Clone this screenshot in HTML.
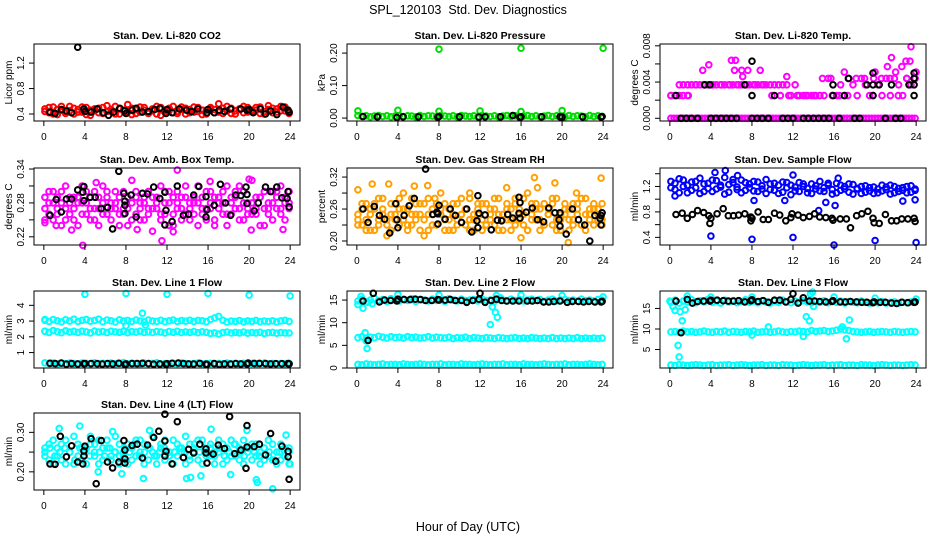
<!DOCTYPE html>
<html><head><meta charset="utf-8">
<style>
html,body{margin:0;padding:0;background:#fff;}
svg{display:block;font-family:"Liberation Sans",Arial,sans-serif;}
.t{font-weight:bold;font-size:10.5px;}
.tk{font-size:10px;}
</style></head>
<body>
<svg id="chart" width="936" height="540" viewBox="0 0 936 540" xmlns="http://www.w3.org/2000/svg">
<text x="468" y="14" text-anchor="middle" font-size="12.5">SPL_120103&#160; Std. Dev. Diagnostics</text>
<text x="468" y="531" text-anchor="middle" font-size="12.5">Hour of Day (UTC)</text>
</svg>
<script>
const xTicks=[0,4,8,12,16,20,24];
const co2Red=[0.48,0.42,0.51,0.39,0.46,0.44,0.52,0.40,0.47,0.43,0.50,0.38,0.45,0.49,0.41,0.53,0.44,0.40,0.48,0.46,0.55,0.39,0.47,0.43,0.50,0.41,0.45,0.52,0.38,0.46,0.49,0.42,0.44,0.51,0.40,0.47,0.43,0.50,0.39,0.46,0.48,0.42,0.56,0.41,0.45,0.49,0.40,0.47,0.52,0.43,0.46,0.50,0.41,0.44,0.53,0.42,0.48,0.45,0.51,0.43];
const co2Red2=[0.44,0.50,0.40,0.47,0.52,0.41,0.45,0.49,0.43,0.51,0.39,0.46,0.48,0.42,0.50,0.44,0.47,0.52,0.40,0.45,0.43,0.49,0.41,0.51,0.46,0.44,0.48,0.40,0.50,0.43,0.45,0.52,0.41,0.47,0.49,0.42,0.51,0.44,0.46,0.40,0.50,0.47,0.43,0.49,0.52,0.41,0.45,0.48,0.42,0.50,0.44,0.46,0.51,0.40,0.47,0.49,0.43,0.52,0.45,0.41];
const co2Black=[[0.6,.43],[1.1,.41],[1.7,.47],[2.2,.45],[2.7,.42],[3.3,1.45],[3.9,.48],[4.0,.44],[4.6,.43],[5.2,.48],[5.8,.42],[6.3,.38],[6.8,.43],[7.4,.49],[7.9,.45],[8.0,.41],[8.6,.46],[9.0,.49],[9.6,.43],[10.2,.44],[10.8,.47],[11.3,.49],[11.9,.41],[12.0,.47],[12.5,.42],[13.2,.48],[13.9,.46],[14.4,.44],[15.0,.48],[15.9,.42],[16.0,.47],[16.6,.42],[17.1,.46],[17.6,.44],[18.2,.48],[19.2,.48],[19.8,.46],[20.0,.47],[20.4,.42],[21.1,.48],[21.6,.40],[22.1,.45],[22.7,.39],[23.3,.51],[23.8,.46],[23.9,.43]];
const presGreen=[0.008,0.005,0.007,0.004,0.006,0.008,0.005,0.007,0.004,0.006,0.008,0.005,0.007,0.006,0.004,0.008,0.005,0.007,0.006,0.004,0.008,0.006,0.005,0.007,0.004,0.008,0.006,0.005,0.007,0.004,0.008,0.006,0.005,0.007,0.004,0.006,0.008,0.005,0.007,0.004,0.006,0.008,0.005,0.007,0.004,0.006,0.008,0.005,0.007,0.006,0.004,0.008,0.005,0.007,0.006,0.004,0.008,0.005,0.007,0.005];
const presSpikes=[[0.1,0.022],[4.0,0.024],[8.0,0.021],[12.0,0.022],[16.0,0.02],[20.0,0.023],[8.0,0.212],[16.0,0.215],[24.0,0.215]];
const presBlack=[[0.6,0.005],[2,0.004],[3.9,0.002],[4.5,0.004],[6,0.004],[7.9,0.003],[8.0,0.005],[10,0.004],[11.9,0.003],[12.5,0.004],[14,0.004],[15.2,0.008],[15.9,0.002],[16,0.004],[18,0.004],[19.8,0.004],[20,0.003],[22,0.004],[23.8,0.003],[23.9,0.005]];
const tempZero=[0,0,0,0,0,0,0,0,0,0,0,0,0,0,0,0,0,0,0,0,0,0,0,0,0,0,0,0,0,0,0,0,0,0,0,0,0,0,0,0,0,0,0,0,0,0,0,0,0,0,0,0,0,0,0,0,0,0,0,0,0,0,0,0,0,0,0,0,0,0,0,0,0,0,0,0,0,0,0,0];
const tempUpper=[0.0025,0.0025,0.0025,0.0037,0.0025,0.0037,0.0037,0.0037,0.0037,0.0037,0.0037,0.0037,0.0037,0.0037,0.0037,0.0037,0.0037,0.0037,0.0037,0.0037,0.0037,0.0037,0.0037,0.0037,0.0037,0.0037,0.0037,0.0037,0.0037,0.0025,0.0037,0.0025,0.0025,0.0025,0.0025,0.0025,0.0025,0.0025,0.0044,0.0025,0.0025,0.0037,0.0025,0.0044,0.0037,0.0025,0.0044,0.0037,0.0025,0.0044,0.0037,0.0025,0.0044,0.0025,0.0044,0.0037,0.0025,0.0044,0.0037,0.0044];
const tempUpper2=[0.0025,0.0037,0.0037,0.0037,0.0037,0.0037,0.0037,0.0037,0.0037,0.0037,0.0037,0.0037,0.0025,0.0025,0.0025,0.0025,0.0025,0.0025,0.0044,0.0044,0.0025,0.0025,0.0044,0.0044,0.0025,0.0044,0.0044,0.0025,0.0044,0.0044];
const tempMagOut=[[3.2,0.0053],[3.8,0.0059],[6,0.0064],[6.4,0.0064],[6.3,0.0053],[7,0.0053],[7.1,0.0046],[7.6,0.0053],[8.8,0.0053],[11.4,0.0046],[17,0.0051],[20,0.0051],[21.2,0.0057],[21.6,0.0067],[22,0.0051],[22.6,0.0057],[23,0.0063],[23.4,0.0063],[23.5,0.0079],[24,0.0051],[1.3,0.0025],[1.8,0.0025]];
const tempBlack=[[1.1,0],[1.6,0],[2.1,0],[2.7,0],[4,0],[4.5,0],[5,0],[5.5,0],[6,0],[6.5,0],[8,0],[8.5,0],[9,0],[9.6,0],[11,0],[11.5,0],[12,0],[13,0],[13.5,0],[14,0],[14.5,0],[15,0],[15.5,0],[16.5,0],[18,0],[18.5,0],[21,0],[22,0],[22.5,0],[0.6,0.0025],[8,0.0025],[10.2,0.0025],[15.9,0.0025],[17,0.0025],[19.8,0.0025],[23.8,0.0025],[3.4,0.0037],[3.9,0.0037],[7.3,0.0037],[15.9,0.0037],[19.2,0.0037],[19.8,0.0037],[20.4,0.0037],[21.6,0.0037],[23.3,0.0037],[23.8,0.0037],[17.4,0.0044],[23.8,0.0044],[19.8,0.005],[23.8,0.005],[8,0.0063]];
const boxMagA=[0.27,0.30,0.25,0.29,0.28,0.31,0.26,0.29,0.24,0.28,0.30,0.27,0.25,0.29,0.31,0.26,0.28,0.30,0.24,0.27,0.29,0.32,0.26,0.28,0.25,0.30,0.27,0.29,0.31,0.26,0.28,0.24,0.30,0.27,0.29,0.25,0.28,0.31,0.26,0.30,0.27,0.24,0.29,0.28,0.31,0.26,0.30,0.25,0.28,0.27,0.32,0.26,0.29,0.24,0.28,0.30,0.27,0.31,0.29,0.28];
const boxMagB=[0.25,0.28,0.30,0.26,0.24,0.27,0.29,0.25,0.28,0.31,0.26,0.29,0.27,0.24,0.28,0.30,0.25,0.27,0.29,0.26,0.24,0.28,0.30,0.25,0.29,0.27,0.23,0.28,0.26,0.30,0.24,0.29,0.27,0.25,0.31,0.28,0.26,0.24,0.29,0.27,0.30,0.25,0.28,0.26,0.24,0.29,0.27,0.31,0.25,0.28,0.26,0.29,0.24,0.30,0.27,0.25,0.29,0.26,0.28,0.30];
const boxMagC=[0.29,0.26,0.28,0.27,0.30,0.25,0.28,0.27,0.29,0.26,0.28,0.25,0.30,0.27,0.26,0.29,0.27,0.28,0.26,0.30,0.27,0.25,0.29,0.27,0.28,0.26,0.29,0.27,0.25,0.28,0.30,0.26,0.28,0.29,0.26,0.27,0.29,0.28,0.27,0.25,0.28,0.29,0.27,0.30,0.26,0.28,0.29,0.27,0.30,0.26,0.28,0.27,0.29,0.27,0.26,0.28,0.30,0.27,0.25,0.27];
const boxMagOut=[[3.8,0.205],[11.5,0.213],[13,0.338],[20,0.322],[16.2,0.318],[5.1,0.316],[0.1,0.245],[2.7,0.232],[12.6,0.229],[20.2,0.232],[23.3,0.233],[1.2,0.24],[9.1,0.233]];
const boxBlack=[[0.6,0.258],[1.2,0.286],[1.7,0.264],[2.2,0.287],[2.7,0.287],[3.3,0.303],[3.8,0.299],[3.9,0.309],[3.9,0.284],[4.5,0.29],[5,0.29],[5.6,0.27],[6.2,0.272],[6.7,0.234],[7.3,0.336],[7.8,0.297],[7.9,0.276],[7.9,0.283],[7.9,0.261],[8.5,0.294],[9,0.255],[9.6,0.297],[10.1,0.296],[10.7,0.308],[11.3,0.288],[11.8,0.299],[11.9,0.267],[11.8,0.241],[12.5,0.247],[13,0.31],[13.6,0.258],[14.1,0.26],[14.6,0.294],[15.1,0.309],[15.8,0.291],[15.9,0.268],[15.8,0.255],[16.6,0.276],[17.2,0.313],[17.7,0.28],[18.2,0.258],[18.7,0.294],[19.2,0.293],[19.8,0.279],[19.8,0.295],[19.7,0.308],[20.5,0.266],[20.9,0.28],[21.6,0.308],[22.1,0.3],[22.7,0.308],[23.2,0.289],[23.7,0.288],[23.8,0.3],[23.9,0.273]];
const rhA=[0.25,0.23,0.27,0.22,0.26,0.24,0.28,0.21,0.25,0.27,0.23,0.26,0.22,0.28,0.24,0.25,0.27,0.22,0.26,0.23,0.29,0.24,0.26,0.22,0.27,0.25,0.23,0.28,0.24,0.26,0.22,0.27,0.25,0.23,0.28,0.24,0.26,0.22,0.27,0.25,0.23,0.29,0.24,0.26,0.22,0.27,0.25,0.23,0.28,0.24,0.26,0.22,0.27,0.25,0.23,0.28,0.24,0.26,0.25,0.27];
const rhB=[0.23,0.27,0.24,0.26,0.22,0.28,0.25,0.23,0.27,0.24,0.26,0.29,0.23,0.25,0.27,0.22,0.24,0.28,0.25,0.23,0.26,0.27,0.22,0.25,0.24,0.28,0.26,0.22,0.25,0.27,0.24,0.23,0.26,0.28,0.22,0.25,0.27,0.24,0.23,0.26,0.28,0.22,0.25,0.27,0.24,0.23,0.26,0.28,0.22,0.25,0.27,0.24,0.23,0.26,0.28,0.22,0.25,0.27,0.24,0.23];
const rhC=[0.24,0.26,0.22,0.25,0.27,0.23,0.26,0.24,0.22,0.25,0.28,0.24,0.26,0.23,0.25,0.27,0.21,0.25,0.23,0.27,0.25,0.22,0.24,0.27,0.23,0.25,0.26,0.24,0.22,0.25,0.27,0.23,0.24,0.26,0.25,0.22,0.24,0.26,0.28,0.24,0.25,0.22,0.27,0.24,0.26,0.23,0.25,0.27,0.24,0.22,0.25,0.26,0.24,0.27,0.23,0.25,0.26,0.23,0.26,0.24];
const rhOut=[[0.1,0.296],[1.5,0.307],[3.1,0.307],[5.6,0.303],[6.9,0.304],[7.6,0.28],[17.3,0.319],[23.8,0.318],[19.3,0.309],[17.6,0.3],[16,0.206],[20.6,0.197],[21.4,0.29],[11,0.29],[3.2,0.215],[14.6,0.3]];
const rhBlack=[[0.6,0.26],[1.1,0.235],[1.7,0.265],[2.2,0.248],[2.7,0.241],[3.2,0.215],[3.8,0.27],[3.9,0.24],[4,0.225],[4.6,0.248],[5.1,0.266],[5.6,0.28],[6.7,0.335],[7.4,0.25],[7.8,0.254],[7.9,0.232],[7.9,0.251],[8.0,0.267],[8.6,0.241],[9.1,0.26],[9.6,0.248],[10.2,0.235],[10.7,0.26],[11.2,0.217],[11.7,0.238],[11.8,0.285],[11.9,0.252],[11.8,0.225],[12.5,0.249],[13.1,0.221],[13.7,0.239],[14.1,0.238],[14.7,0.25],[15.2,0.243],[15.8,0.282],[15.9,0.272],[15.8,0.252],[15.9,0.243],[16.5,0.254],[17.1,0.262],[17.6,0.24],[18.2,0.236],[18.7,0.262],[19.3,0.253],[19.7,0.24],[19.8,0.253],[19.8,0.228],[20.4,0.213],[21.0,0.26],[21.6,0.24],[22.2,0.23],[22.7,0.2],[23.2,0.248],[23.7,0.242],[23.8,0.248],[23.9,0.253],[23.8,0.23]];
const flowBlueA=[1.28,1.15,1.32,1.20,1.10,1.27,1.18,1.33,1.12,1.25,1.30,1.16,1.22,1.34,1.11,1.26,1.19,1.30,1.14,1.24,1.28,1.12,1.21,1.31,1.15,1.25,1.09,1.27,1.18,1.22,1.13,1.26,1.20,1.10,1.24,1.16,1.28,1.12,1.22,1.08,1.25,1.14,1.20,1.11,1.23,1.16,1.09,1.21,1.13,1.19,1.10,1.22,1.15,1.08,1.20,1.12,1.18,1.10,1.21,1.14];
const flowBlueB=[1.18,1.25,1.10,1.30,1.22,1.14,1.28,1.09,1.24,1.17,1.12,1.29,1.19,1.08,1.23,1.31,1.15,1.10,1.26,1.18,1.13,1.27,1.16,1.09,1.24,1.14,1.22,1.11,1.26,1.07,1.19,1.12,1.24,1.17,1.09,1.21,1.13,1.18,1.25,1.15,1.10,1.22,1.16,1.24,1.08,1.17,1.20,1.11,1.18,1.09,1.16,1.13,1.19,1.22,1.10,1.17,1.14,1.20,1.11,1.16];
const flowBlueOut=[[4,0.42],[8,0.37],[12,0.4],[16,0.28],[20,0.35],[24,0.32],[4.4,1.42],[5.4,1.45],[12,1.38],[15.2,0.95],[16.1,0.9],[14.5,0.82],[22.7,0.97],[23.9,0.99],[0.5,1.05],[8.2,0.98],[11.2,0.98],[6.6,1.37],[16.4,1.33]];
const flowBlack=[[0.6,0.76],[1.2,0.78],[1.7,0.7],[2.2,0.76],[2.7,0.82],[3.3,0.79],[3.8,0.74],[3.9,0.62],[4.0,0.7],[4.6,0.77],[5.2,0.85],[5.7,0.74],[6.2,0.74],[6.7,0.75],[7.3,0.77],[7.9,0.72],[7.9,0.66],[8.0,0.7],[8.6,0.8],[9.1,0.68],[9.6,0.68],[10.2,0.78],[10.7,0.75],[11.3,0.66],[11.8,0.71],[11.9,0.77],[12.5,0.75],[13,0.71],[13.6,0.73],[14.1,0.77],[14.6,0.72],[15.2,0.71],[15.8,0.7],[15.9,0.67],[16.6,0.69],[17.2,0.69],[17.6,0.55],[18.2,0.74],[18.7,0.77],[19.3,0.81],[19.8,0.7],[19.9,0.63],[20.4,0.62],[21.0,0.76],[21.6,0.66],[22.1,0.66],[22.6,0.69],[23.2,0.69],[23.8,0.7],[23.9,0.65]];
const l1Upper=[3.05,2.98,3.10,3.02,2.95,3.08,3.00,3.12,2.97,3.05,3.10,2.99,3.04,3.12,2.96,3.06,3.02,2.94,3.08,3.00,3.04,2.97,3.06,3.01,2.95,3.07,3.00,2.98,3.05,2.96,3.02,3.06,2.97,3.03,2.99,3.05,2.98,3.04,3.02,2.96,3.10,3.20,3.30,3.05,2.94,3.00,2.97,3.03,2.95,3.01,2.98,3.04,2.96,3.00,2.97,3.02,2.95,3.01,3.05,2.98];
const l1Mid=[2.35,2.28,2.40,2.32,2.26,2.38,2.30,2.35,2.28,2.36,2.31,2.25,2.37,2.30,2.34,2.27,2.36,2.31,2.29,2.35,2.26,2.33,2.30,2.36,2.28,2.32,2.27,2.34,2.30,2.25,2.33,2.29,2.35,2.27,2.31,2.28,2.34,2.26,2.32,2.29,2.22,2.25,2.18,2.27,2.30,2.24,2.28,2.25,2.30,2.23,2.27,2.25,2.29,2.22,2.26,2.28,2.23,2.27,2.25,2.24];
const l1Low=[0.35,0.30,0.33,0.28,0.32,0.29,0.34,0.30,0.27,0.33,0.31,0.28,0.35,0.30,0.32,0.27,0.34,0.29,0.31,0.36,0.28,0.32,0.30,0.27,0.33,0.29,0.31,0.35,0.28,0.30,0.26,0.32,0.29,0.33,0.30,0.27,0.31,0.34,0.28,0.30,0.32,0.27,0.31,0.29,0.33,0.28,0.30,0.26,0.32,0.29,0.31,0.28,0.30,0.33,0.27,0.31,0.29,0.30,0.28,0.32];
const l1Out=[[4,4.7],[8,4.75],[12,4.7],[16,4.75],[20,4.65],[24,4.6],[9.6,3.5],[9.9,2.75],[8,2.7],[0.1,3.1],[0.1,2.35]];
const l1Black=[[0.6,0.32],[1.1,0.3],[1.7,0.33],[2.2,0.26],[2.7,0.3],[3.3,0.28],[3.9,0.29],[4,0.3],[4.6,0.3],[5.2,0.29],[5.7,0.27],[6.2,0.3],[6.7,0.28],[7.3,0.32],[7.9,0.25],[8,0.28],[8.6,0.3],[9.1,0.3],[9.6,0.32],[10.2,0.3],[10.7,0.26],[11.3,0.28],[11.9,0.26],[12,0.29],[12.5,0.32],[13.1,0.33],[13.6,0.3],[14.1,0.28],[14.6,0.27],[15.2,0.31],[15.8,0.26],[15.9,0.25],[16.6,0.3],[17.1,0.25],[17.6,0.28],[18.2,0.27],[18.7,0.3],[19.2,0.28],[19.8,0.28],[19.9,0.33],[20.5,0.31],[21,0.31],[21.6,0.3],[22.1,0.28],[22.6,0.29],[23.2,0.29],[23.8,0.3],[23.9,0.28]];
const l2Upper=[14.8,15.2,14.6,15.0,15.4,14.9,15.1,14.7,15.3,15.0,14.8,15.2,14.9,15.3,14.7,15.1,15.0,14.8,15.2,14.9,15.1,14.7,15.3,15.0,14.8,15.2,14.9,15.0,15.1,14.8,15.2,14.9,15.0,14.7,15.1,15.0,14.8,15.2,14.9,15.1,14.8,15.0,15.2,14.9,15.1,14.7,15.0,15.2,14.8,15.0,15.1,14.9,15.0,14.8,15.2,14.9,15.0,14.8,15.1,15.0];
const l2Mid=[6.7,6.9,6.6,6.8,6.7,7.0,6.8,6.6,6.9,6.7,6.8,6.6,6.9,6.7,6.8,6.6,6.7,6.9,6.6,6.8,6.7,6.6,6.8,6.5,6.7,6.6,6.8,6.5,6.7,6.6,6.5,6.7,6.6,6.5,6.7,6.6,6.5,6.6,6.7,6.5,6.6,6.5,6.7,6.6,6.5,6.6,6.5,6.7,6.5,6.6,6.5,6.6,6.5,6.7,6.5,6.6,6.5,6.6,6.5,6.6];
const l2Low=[0.8,0.7,0.9,0.8,0.7,0.8,0.9,0.7,0.8,0.8,0.7,0.9,0.8,0.7,0.8,0.9,0.8,0.7,0.8,0.8,0.9,0.7,0.8,0.8,0.7,0.9,0.8,0.8,0.7,0.8,0.9,0.8,0.7,0.8,0.8,0.9,0.7,0.8,0.8,0.7,0.9,0.8,0.8,0.7,0.8,0.9,0.8,0.7,0.8,0.8,0.9,0.7,0.8,0.8,0.7,0.8,0.9,0.8,0.7,0.8];
const l2Out=[[0.1,14],[0.4,15.8],[0.6,13.2],[0.8,7.8],[0.9,6],[1,4.3],[1.1,14.5],[4,16.2],[8,16.1],[12.5,14.5],[13,9.6],[13.2,13.5],[13.5,12.3],[13.7,11.2],[14,15.5],[13.6,16],[16,16.1],[20,16],[24,15.7],[1.5,14.2]];
const l2Black=[[0.6,14.8],[1.1,6.1],[1.6,16.5],[2.2,14.6],[2.7,15],[3.3,14.9],[3.9,14.8],[4,15.2],[4.6,15.1],[5.2,15.1],[5.7,15.2],[6.2,15.1],[6.7,14.9],[7.3,14.9],[7.9,15.1],[8,15],[8.6,15],[9.1,15.1],[9.6,14.9],[10.2,14.9],[10.7,14.5],[11.3,14.9],[11.9,15.2],[12,16.5],[12.5,14.5],[13.1,14.9],[13.6,15.2],[14.1,14.9],[14.6,14.8],[15.2,14.8],[15.8,14.8],[16.6,14.8],[17.1,14.8],[17.6,14.9],[18.2,14.6],[18.7,14.6],[19.2,14.7],[19.8,14.8],[20.5,14.5],[21,14.7],[21.6,14.7],[22.1,14.6],[22.6,14.7],[23.2,14.6],[23.8,14.6],[23.9,14.7]];
const l3Upper=[16.5,17.0,16.3,16.8,16.6,17.1,16.4,16.9,16.6,17.2,16.5,16.8,16.3,17.0,16.6,16.9,16.4,16.7,17.1,16.5,16.8,16.4,16.9,16.6,16.3,16.8,16.5,17.0,16.6,16.4,16.8,16.5,16.9,16.6,16.4,16.7,16.5,16.9,16.4,16.7,16.5,16.8,16.3,16.7,16.5,16.4,16.8,16.5,16.3,16.6,16.4,16.7,16.3,16.5,16.6,16.3,16.5,16.4,16.6,16.5];
const l3Mid=[9.3,9.4,9.2,9.5,9.3,9.4,9.2,9.3,9.5,9.3,9.2,9.4,9.3,9.5,9.2,9.4,9.3,9.2,9.4,9.3,9.5,9.2,9.3,9.4,9.2,9.3,9.5,9.3,9.2,9.4,9.3,9.5,9.4,9.3,9.6,9.4,9.5,9.6,9.4,9.5,9.7,10.0,9.8,9.6,9.4,9.3,9.2,9.3,9.4,9.2,9.3,9.4,9.3,9.2,9.4,9.3,9.2,9.3,9.4,9.3];
const l3Low=[1.2,1.1,1.3,1.2,1.1,1.2,1.3,1.2,1.1,1.2,1.3,1.1,1.2,1.2,1.3,1.1,1.2,1.3,1.2,1.1,1.2,1.2,1.3,1.1,1.2,1.2,1.1,1.3,1.2,1.2,1.1,1.2,1.3,1.2,1.1,1.2,1.2,1.3,1.1,1.2,1.2,1.3,1.1,1.2,1.2,1.1,1.3,1.2,1.2,1.1,1.2,1.3,1.2,1.1,1.2,1.2,1.1,1.2,1.3,1.2];
const l3Out=[[0,16.8],[0.3,15.5],[0.5,14.5],[0.8,6],[0.9,3.2],[1,14.2],[1.2,12],[1.5,14.7],[1.7,18],[13.3,13],[13.6,12],[13.7,18.5],[13.9,19],[14,15.5],[17.2,7.6],[17.5,12.2],[13,8.2],[9.6,10.5],[8,8.5],[16.8,10.5],[4,17.8],[8,17.8],[16,17.8],[20,17.5],[24,17.3]];
const l3Black=[[0.6,16.8],[1.1,9.1],[1.7,17.2],[2.2,16.3],[2.7,16.7],[3.3,16.8],[3.9,16.8],[4,17],[4.6,17],[5.2,16.9],[5.7,16.8],[6.2,16.8],[6.7,16.9],[7.3,16.6],[7.9,16.9],[8,17.1],[8.6,16.7],[9.1,16.9],[9.6,16.5],[10.2,17],[10.7,17],[11.3,16.6],[11.8,17.2],[12,18.6],[12.5,16.3],[13,17.6],[13.6,16.8],[14.1,16.8],[14.6,16.7],[15.2,16.6],[15.8,16.7],[15.9,16.9],[16.6,16.6],[17.1,16.6],[17.6,16.7],[18.2,16.6],[18.7,16.5],[19.2,16.5],[19.8,16.4],[19.9,16.6],[20.5,16.5],[21,16.5],[21.6,16.3],[22.1,16.2],[22.6,16.5],[23.2,16.4],[23.8,16.5],[23.9,16.6]];
const l4A=[0.26,0.23,0.28,0.24,0.27,0.22,0.25,0.29,0.24,0.26,0.22,0.27,0.25,0.28,0.23,0.26,0.24,0.29,0.22,0.25,0.27,0.23,0.28,0.25,0.22,0.26,0.29,0.24,0.27,0.23,0.25,0.28,0.24,0.26,0.22,0.27,0.25,0.23,0.28,0.24,0.26,0.22,0.25,0.27,0.23,0.28,0.24,0.26,0.22,0.25,0.27,0.24,0.22,0.26,0.28,0.23,0.25,0.27,0.24,0.26];
const l4B=[0.24,0.27,0.22,0.26,0.23,0.28,0.25,0.22,0.27,0.23,0.26,0.29,0.24,0.22,0.26,0.28,0.23,0.25,0.27,0.24,0.22,0.26,0.24,0.28,0.27,0.23,0.25,0.22,0.26,0.28,0.24,0.22,0.27,0.25,0.29,0.23,0.26,0.28,0.22,0.25,0.27,0.24,0.28,0.22,0.26,0.24,0.27,0.23,0.28,0.26,0.23,0.27,0.25,0.23,0.24,0.27,0.22,0.23,0.26,0.22];
const l4C=[0.25,0.26,0.24,0.25,0.26,0.25,0.23,0.26,0.25,0.24,0.27,0.25,0.24,0.26,0.25,0.24,0.26,0.25,0.27,0.24,0.25,0.26,0.24,0.25,0.26,0.24,0.25,0.26,0.25,0.24,0.27,0.25,0.26,0.24,0.25,0.26,0.24,0.25,0.27,0.25,0.24,0.26,0.25,0.24,0.26,0.25,0.23,0.25,0.24,0.25];
const l4Out=[[1.5,0.31],[3.5,0.316],[6.7,0.302],[9.7,0.183],[13.9,0.183],[14.3,0.186],[15.3,0.19],[16.3,0.308],[18.2,0.193],[20.7,0.18],[20.8,0.173],[22.3,0.157],[23.6,0.293],[24,0.22],[10.3,0.305],[19.8,0.305],[5.3,0.2],[7.6,0.195]];
const l4Black=[[0.6,0.22],[1.1,0.219],[1.6,0.29],[2.2,0.238],[2.7,0.266],[3.3,0.225],[3.8,0.22],[3.9,0.24],[3.9,0.253],[4,0.265],[4.6,0.284],[5.1,0.17],[5.6,0.279],[6.2,0.225],[6.7,0.21],[7.3,0.225],[7.8,0.279],[7.9,0.255],[7.9,0.233],[7.9,0.222],[8.6,0.267],[9.1,0.27],[9.6,0.235],[10.1,0.268],[10.7,0.287],[11.2,0.303],[11.8,0.278],[11.8,0.24],[11.9,0.252],[11.8,0.346],[12.5,0.22],[13.0,0.327],[13.6,0.236],[14.1,0.257],[14.6,0.248],[15.2,0.27],[15.8,0.258],[15.9,0.222],[15.8,0.248],[16.5,0.245],[17.0,0.268],[17.6,0.259],[18.1,0.34],[18.6,0.246],[19.2,0.255],[19.7,0.209],[19.8,0.263],[19.8,0.317],[20.5,0.264],[21.0,0.27],[21.6,0.243],[22.1,0.297],[22.6,0.227],[23.2,0.265],[23.8,0.252],[23.8,0.238],[23.9,0.181]];

const BLACK='#000', RED='#ff0000', GREEN='#00dd00', MAG='#ff00ff', ORANGE='#ffa000', BLUE='#0000ff', CYAN='#00ffff';
function dense(vals){return vals.map((v,i)=>[0.1+i*23.8/(vals.length-1),v]);}
const panels=[
 {name:'co2',title:'Stan. Dev. Li-820 CO2',ylab:'Licor ppm',col:0,row:0,ylim:[0.29,1.50],yt:[0.4,0.8,1.2],ytl:['0.4','0.8','1.2'],series:[[dense(co2Red),RED],[dense(co2Red2),RED],[co2Black,BLACK]]},
 {name:'pressure',title:'Stan. Dev. Li-820 Pressure',ylab:'kPa',col:1,row:0,ylim:[-0.009,0.228],yt:[0,0.1,0.2],ytl:['0.00','0.10','0.20'],series:[[dense(presGreen),GREEN],[presSpikes,GREEN],[presBlack,BLACK]]},
 {name:'temp',title:'Stan. Dev. Li-820 Temp.',ylab:'degrees C',col:2,row:0,ylim:[-0.0003,0.0082],yt:[0,0.002,0.004,0.006,0.008],ytl:['0.000','','0.004','','0.008'],series:[[dense(tempZero),MAG],[dense(tempUpper),MAG],[dense(tempUpper2),MAG],[tempMagOut,MAG],[tempBlack,BLACK]]},
 {name:'box-temp',title:'Stan. Dev. Amb. Box Temp.',ylab:'degrees C',col:0,row:1,ylim:[0.2055,0.3418],yt:[0.22,0.25,0.28,0.31,0.34],ytl:['0.22','','0.28','','0.34'],series:[[dense(boxMagA),MAG],[dense(boxMagB),MAG],[dense(boxMagC),MAG],[boxMagOut,MAG],[boxBlack,BLACK]]},
 {name:'rh',title:'Stan. Dev. Gas Stream RH',ylab:'percent',col:1,row:1,ylim:[0.1925,0.337],yt:[0.20,0.23,0.26,0.29,0.32],ytl:['0.20','','0.26','','0.32'],series:[[dense(rhA),ORANGE],[dense(rhB),ORANGE],[dense(rhC),ORANGE],[rhOut,ORANGE],[rhBlack,BLACK]]},
 {name:'sample-flow',title:'Stan. Dev. Sample Flow',ylab:'ml/min',col:2,row:1,ylim:[0.28,1.49],yt:[0.4,0.6,0.8,1.0,1.2,1.4],ytl:['0.4','','0.8','','1.2',''],series:[[dense(flowBlueA),BLUE],[dense(flowBlueB),BLUE],[flowBlueOut,BLUE],[flowBlack,BLACK]]},
 {name:'line1',title:'Stan. Dev. Line 1 Flow',ylab:'ml/min',col:0,row:2,ylim:[0.02,4.91],yt:[1,2,3,4],ytl:['1','2','3','4'],series:[[dense(l1Upper),CYAN],[dense(l1Mid),CYAN],[dense(l1Low),CYAN],[l1Out,CYAN],[l1Black,BLACK]]},
 {name:'line2',title:'Stan. Dev. Line 2 Flow',ylab:'ml/min',col:1,row:2,ylim:[0,17.0],yt:[0,5,10,15],ytl:['0','5','10','15'],series:[[dense(l2Upper),CYAN],[dense(l2Mid),CYAN],[dense(l2Low),CYAN],[l2Out,CYAN],[l2Black,BLACK]]},
 {name:'line3',title:'Stan. Dev. Line 3 Flow',ylab:'ml/min',col:2,row:2,ylim:[0.5,19.25],yt:[5,10,15],ytl:['5','10','15'],series:[[dense(l3Upper),CYAN],[dense(l3Mid),CYAN],[dense(l3Low),CYAN],[l3Out,CYAN],[l3Black,BLACK]]},
 {name:'line4',title:'Stan. Dev. Line 4 (LT) Flow',ylab:'ml/min',col:0,row:3,ylim:[0.154,0.349],yt:[0.20,0.25,0.30],ytl:['0.20','','0.30'],series:[[dense(l4A),CYAN],[dense(l4B),CYAN],[dense(l4C),CYAN],[l4Out,CYAN],[l4Black,BLACK]]}
];
const colLeft=[34,347,660], rowTop=[44,168,291,413], PW=266, PH=77;
const svg=document.getElementById('chart');
const NS='http://www.w3.org/2000/svg';
function mk(tag,attrs,parent){const e=document.createElementNS(NS,tag);for(const k in attrs)e.setAttribute(k,attrs[k]);parent.appendChild(e);return e;}
panels.forEach(p=>{
  const L=colLeft[p.col], T=rowTop[p.row], B=T+PH, R=L+PW;
  const xs=h=>L+(h+0.96)/25.92*PW;
  const ys=v=>B-(v-p.ylim[0])/(p.ylim[1]-p.ylim[0])*PH;
  const g=mk('g',{},svg);
  
  
  const pts=mk('g',{fill:'none','stroke-width':'2'},g);
  
  
  p.series.forEach(([data,color])=>{
    data.forEach(([h,v])=>{
      const c=mk('circle',{cx:xs(h).toFixed(1),cy:ys(v).toFixed(1),r:'2.8',stroke:color},pts);
      
      
    });
  });
  const box=mk('rect',{x:L,y:T,width:PW,height:PH,fill:'none',stroke:'#000','stroke-width':'1'},g);
  
  
  const ttl=mk('text',{x:L+PW/2,y:T-5,'text-anchor':'middle',class:'t'},g);
  ttl.textContent=p.title;
  
  
  const yl=mk('text',{x:0,y:0,'text-anchor':'middle','font-size':'10',transform:`translate(${L-22},${T+PH/2}) rotate(-90)`},g);
  yl.textContent=p.ylab;
  
  
  const xa=mk('g',{},g);
  
  
  mk('line',{x1:xs(0),x2:xs(24),y1:B,y2:B,stroke:'#000'},xa);
  xTicks.forEach(t=>{
    mk('line',{x1:xs(t),x2:xs(t),y1:B,y2:B+5,stroke:'#000'},xa);
    const tx=mk('text',{x:xs(t),y:B+19,'text-anchor':'middle',class:'tk'},xa);
    tx.textContent=String(t);
  });
  const ya=mk('g',{},g);
  
  
  p.yt.forEach((t,i)=>{
    mk('line',{x1:L-5,x2:L,y1:ys(t),y2:ys(t),stroke:'#000'},ya);
    if(p.ytl[i]){
      const tx=mk('text',{x:0,y:0,'text-anchor':'middle',class:'tk',transform:`translate(${L-10},${ys(t)}) rotate(-90)`},ya);
      tx.textContent=p.ytl[i];
    }
  });
});
</script>
</body></html>
